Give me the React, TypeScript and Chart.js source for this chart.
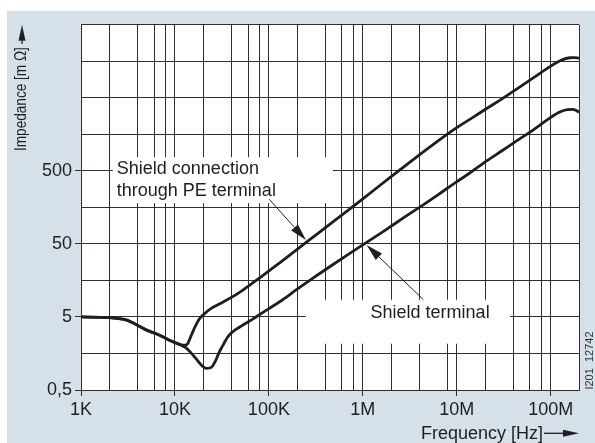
import React, { useEffect, useRef } from "react";
import { Chart, registerables } from "chart.js";

Chart.register(...registerables);

const FONT = '"Liberation Sans", Arial, Helvetica, sans-serif';
const INK = "#1e1e1e";
const GRID = "#2e2e2e";
const BG = "#d6e0e8";

// Shield connection through PE terminal (upper curve)
const peFreq = [1000, 2000, 3000, 4000, 5000, 6500, 9000, 11500, 13000, 13800, 14600, 16500, 18200, 20500, 25000, 30000, 36000, 43000, 52000, 62000, 80000, 100000, 140000, 200000, 300000, 500000, 700000, 1e6, 2e6, 4e6, 7e6, 1e7, 1.5e7, 2.1e7, 3e7, 4.5e7, 6.7e7, 1e8, 1.3e8, 1.6e8, 1.8e8, 2e8];
const peImp = [5.0, 4.9, 4.55, 3.85, 3.3, 2.9, 2.36, 2.08, 2.05, 2.2, 2.62, 3.75, 4.7, 5.5, 6.7, 7.6, 8.6, 9.8, 11.5, 13.5, 17.2, 21.3, 29.5, 42, 63, 104, 145, 207, 418, 830, 1420, 1950, 2720, 3600, 4800, 6800, 9600, 13600, 16400, 17700, 17800, 17400];

// Shield terminal (lower curve)
const stFreq = [1000, 2000, 3000, 4000, 5000, 6500, 9000, 11500, 13000, 14600, 16300, 17900, 19500, 21500, 23500, 25000, 27000, 29000, 31000, 33000, 36000, 39000, 45000, 55000, 66000, 80000, 100000, 140000, 200000, 300000, 500000, 700000, 1e6, 1.6e6, 2.8e6, 4.2e6, 6.3e6, 9.5e6, 1.4e7, 2.1e7, 3e7, 4e7, 6.7e7, 1e8, 1.25e8, 1.5e8, 1.7e8, 1.85e8, 2e8];
const stImp = [5.0, 4.9, 4.55, 3.85, 3.3, 2.9, 2.36, 2.08, 1.9, 1.65, 1.4, 1.21, 1.07, 0.99, 1.0, 1.05, 1.25, 1.55, 1.85, 2.13, 2.6, 2.95, 3.4, 4.0, 4.6, 5.4, 6.5, 8.6, 12, 17.3, 27, 36, 48.5, 72, 117, 165, 235, 340, 475, 690, 935, 1200, 1870, 2700, 3200, 3450, 3480, 3380, 3180];

const xTickValues = [1e3, 1e4, 1e5, 1e6, 1e7, 1e8];
const xTickLabels = ["1K", "10K", "100K", "1M", "10M", "100M"];
const xGridValues = [1e3, 2e3, 4e3, 6e3, 8e3, 1e4, 2e4, 4e4, 6e4, 8e4, 1e5, 2e5, 4e5, 6e5, 8e5, 1e6, 2e6, 4e6, 8e6, 1e7, 2e7, 4e7, 6e7, 8e7, 1e8, 2e8];

const yTickValues = [0.5, 5, 50, 500];
const yTickLabels = ["0,5", "5", "50", "500"];
const yGridValues = [0.5, 1.581, 5, 15.81, 50, 158.1, 500, 1581, 5000, 15811, 50000];

const xMin = 1000;
const xMax = 2e8;
const yMin = 0.5;
const yMax = 50000;

const xTitle = "Frequency [Hz]";
const yTitle = "Impedance [m Ω]";
const docId = "I201  12742";

// Annotations (data space)
const peLabelLines = ["Shield connection", "through PE terminal"];
const peBox = { f0: 2180, f1: 480000, v0: 181, v1: 771 };
const peArrow = { f0: 100500, v0: 205, f1: 248000, v1: 56.4 };
const stLabel = "Shield terminal";
const stBox = { f0: 248000, f1: 3.68e7, v0: 2.15, v1: 8.6 };
const stText = { f: 5.2e6, v: 4.85 };
const stArrow = { f0: 4.41e6, v0: 8.63, f1: 1.097e6, v1: 48.3 };

const near = (a: number, b: number) => Math.abs(Math.log10(a) - Math.log10(b)) < 1e-6;

function arrow(ctx: CanvasRenderingContext2D, x0: number, y0: number, x1: number, y1: number, hl: number, hw: number, lw: number) {
  const ang = Math.atan2(y1 - y0, x1 - x0);
  const bx = x1 - Math.cos(ang) * hl;
  const by = y1 - Math.sin(ang) * hl;
  ctx.save();
  ctx.strokeStyle = INK;
  ctx.fillStyle = INK;
  ctx.lineWidth = lw;
  ctx.beginPath();
  ctx.moveTo(x0, y0);
  ctx.lineTo(bx, by);
  ctx.stroke();
  ctx.beginPath();
  ctx.moveTo(x1, y1);
  ctx.lineTo(bx + Math.sin(ang) * hw, by - Math.cos(ang) * hw);
  ctx.lineTo(bx - Math.sin(ang) * hw, by + Math.cos(ang) * hw);
  ctx.closePath();
  ctx.fill();
  ctx.restore();
}

export default function App() {
  const ref = useRef<HTMLCanvasElement>(null);

  useEffect(() => {
    const canvas = ref.current;
    if (!canvas) return;

    const decor = {
      id: "decor",
      beforeDraw(chart: any) {
        const { ctx, chartArea: a } = chart;
        ctx.save();
        ctx.fillStyle = BG;
        ctx.fillRect(0, 0, chart.width, chart.height);
        ctx.fillStyle = "#ffffff";
        ctx.fillRect(a.left, a.top, a.right - a.left, a.bottom - a.top);
        ctx.restore();
      },
      beforeDatasetsDraw(chart: any) {
        const { ctx } = chart;
        const xs = chart.scales.x;
        const ys = chart.scales.y;
        ctx.save();
        ctx.fillStyle = "#ffffff";
        const b1 = [xs.getPixelForValue(peBox.f0), ys.getPixelForValue(peBox.v1), xs.getPixelForValue(peBox.f1), ys.getPixelForValue(peBox.v0)];
        ctx.fillRect(b1[0], b1[1], b1[2] - b1[0], b1[3] - b1[1]);
        const b2 = [xs.getPixelForValue(stBox.f0), ys.getPixelForValue(stBox.v1), xs.getPixelForValue(stBox.f1), ys.getPixelForValue(stBox.v0)];
        ctx.fillRect(b2[0], b2[1], b2[2] - b2[0], b2[3] - b2[1]);

        ctx.fillStyle = INK;
        ctx.font = `18px ${FONT}`;
        ctx.textBaseline = "alphabetic";
        ctx.textAlign = "left";
        ctx.fillText(peLabelLines[0], b1[0] + 4, b1[1] + 16.5);
        ctx.fillText(peLabelLines[1], b1[0] + 4, b1[1] + 39);
        ctx.textAlign = "center";
        ctx.fillText(stLabel, xs.getPixelForValue(stText.f), ys.getPixelForValue(stText.v));
        ctx.restore();
      },
      afterDatasetsDraw(chart: any) {
        const { ctx } = chart;
        const xs = chart.scales.x;
        const ys = chart.scales.y;
        arrow(ctx, xs.getPixelForValue(peArrow.f0), ys.getPixelForValue(peArrow.v0), xs.getPixelForValue(peArrow.f1), ys.getPixelForValue(peArrow.v1), 17, 4.5, 1);
        arrow(ctx, xs.getPixelForValue(stArrow.f0), ys.getPixelForValue(stArrow.v0), xs.getPixelForValue(stArrow.f1), ys.getPixelForValue(stArrow.v1), 17, 4.5, 1);
      },
      afterDraw(chart: any) {
        const { ctx, chartArea: a } = chart;
        ctx.save();
        ctx.fillStyle = INK;
        // x title
        ctx.font = `18px ${FONT}`;
        ctx.textAlign = "right";
        ctx.textBaseline = "alphabetic";
        const xr = 536;
        ctx.fillText(xTitle, xr, 428);
        arrow(ctx, xr + 1, 422.3, a.right, 422.3, 16, 3.5, 1.3);
        // y title
        const yb = 140;
        const sx = 0.85;
        ctx.save();
        ctx.translate(15, yb);
        ctx.rotate(-Math.PI / 2);
        ctx.scale(sx, 1);
        ctx.font = `16px ${FONT}`;
        ctx.textAlign = "left";
        ctx.textBaseline = "middle";
        ctx.fillText(yTitle, 0, 0);
        const w = ctx.measureText(yTitle).width * sx;
        ctx.restore();
        arrow(ctx, 15, yb - w - 3, 15, a.top, 16, 3.5, 1.3);
        // document id
        ctx.save();
        ctx.translate(582.5, 349.5);
        ctx.rotate(-Math.PI / 2);
        ctx.font = `11px ${FONT}`;
        ctx.fillStyle = "#333";
        ctx.textAlign = "center";
        ctx.textBaseline = "middle";
        ctx.fillText(docId, 0, 0);
        ctx.restore();
        ctx.restore();
      },
    };

    const chart = new Chart(canvas, {
      type: "line",
      data: {
        datasets: [
          {
            label: "Shield connection through PE terminal",
            data: peFreq.map((f, i) => ({ x: f, y: peImp[i] })),
            borderColor: INK,
            borderWidth: 2.8,
            pointRadius: 0,
            fill: false,
            cubicInterpolationMode: "monotone",
          },
          {
            label: "Shield terminal",
            data: stFreq.map((f, i) => ({ x: f, y: stImp[i] })),
            borderColor: INK,
            borderWidth: 2.8,
            pointRadius: 0,
            fill: false,
            cubicInterpolationMode: "monotone",
          },
        ],
      },
      options: {
        animation: false,
        responsive: false,
        maintainAspectRatio: false,
        layout: { padding: { top: 6, right: 16, left: 0, bottom: 0 } },
        plugins: { legend: { display: false }, tooltip: { enabled: false } },
        scales: {
          x: {
            type: "logarithmic",
            min: xMin,
            max: xMax,
            afterBuildTicks: (s: any) => {
              s.ticks = xGridValues.map((v) => ({ value: v }));
            },
            afterFit: (s: any) => {
              s.height = 53;
            },
            ticks: {
              autoSkip: false,
              maxRotation: 0,
              minRotation: 0,
              padding: 3,
              color: INK,
              font: { family: FONT, size: 18 },
              callback: (value: any) => {
                const i = xTickValues.findIndex((v) => near(v, Number(value)));
                return i >= 0 ? xTickLabels[i] : "";
              },
            },
            grid: {
              color: GRID,
              lineWidth: 1,
              tickLength: 6,
              tickColor: (ctx: any) =>
                ctx.tick && xTickValues.some((v) => near(v, ctx.tick.value)) ? GRID : "rgba(0,0,0,0)",
            },
            border: { color: GRID, width: 1 },
          },
          y: {
            type: "logarithmic",
            min: yMin,
            max: yMax,
            afterBuildTicks: (s: any) => {
              s.ticks = yGridValues.map((v) => ({ value: v }));
            },
            afterFit: (s: any) => {
              s.width = 74;
            },
            ticks: {
              autoSkip: false,
              padding: 3,
              color: INK,
              font: { family: FONT, size: 18 },
              callback: (value: any) => {
                const i = yTickValues.findIndex((v) => near(v, Number(value)));
                return i >= 0 ? yTickLabels[i] : "";
              },
            },
            grid: {
              color: GRID,
              lineWidth: 1,
              tickLength: 6,
              tickColor: (ctx: any) =>
                ctx.tick && yTickValues.some((v) => near(v, ctx.tick.value)) ? GRID : "rgba(0,0,0,0)",
            },
            border: { color: GRID, width: 1 },
          },
        },
      },
      plugins: [decor],
    } as any);

    return () => chart.destroy();
  }, []);

  return (
    <div style={{ position: "absolute", left: 0, top: 0, width: 595, height: 443, background: "#ffffff", overflow: "hidden" }}>
      <canvas
        ref={ref}
        width={588}
        height={432}
        style={{ position: "absolute", left: 7, top: 11, display: "block", width: 588, height: 432 }}
      />
    </div>
  );
}
